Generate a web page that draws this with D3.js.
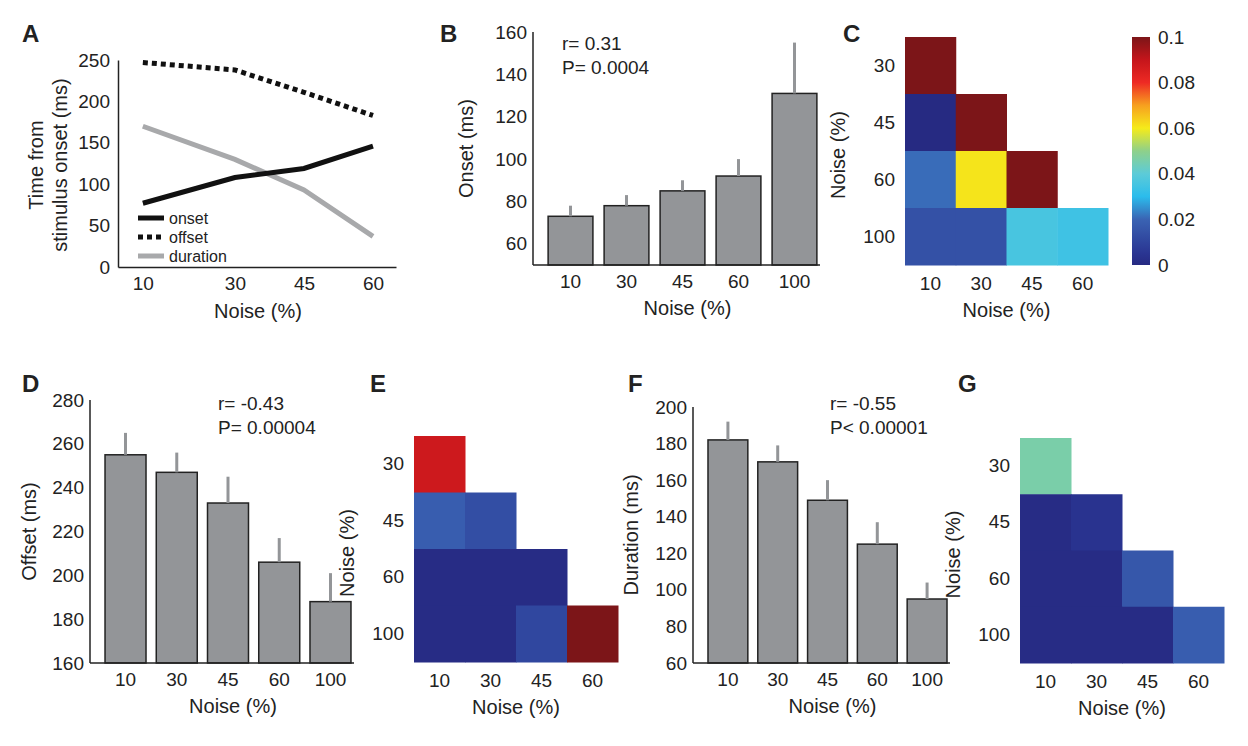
<!DOCTYPE html><html><head><meta charset="utf-8"><script src="https://cdn.jsdelivr.net/npm/d3@7"></script>
<style>body{margin:0;background:#fff}text{font-family:"Liberation Sans",Arial,sans-serif;fill:#222}</style></head><body>
<svg id="c" width="1248" height="746"></svg>
<script>
const noiseA=[10,30,45,60];
const onset=[77,108,119,146], offset=[247,238,211,183], duration=[170,130,93,37];
const barCats=["10","30","45","60","100"];
const onsetMean=[73,78,85,92,131], onsetErr=[5,5,5,8,24];
const offsetMean=[255,247,233,206,188], offsetErr=[10,9,12,11,13];
const durMean=[182,170,149,125,95], durErr=[10,9,11,12,9];
const hmCols=["10","30","45","60"], hmRows=["30","45","60","100"];
const hmC=[[0.1],[0,0.1],[0.021,0.061,0.1],[0.014,0.014,0.036,0.034]];
const hmE=[[0.088],[0.018,0.013],[0.001,0.001,0.001],[0.001,0.001,0.011,0.1]];
const hmG=[[0.046],[0.001,0.004],[0.001,0.001,0.016],[0.001,0.001,0.001,0.018]];
const cbTicks=[0,0.02,0.04,0.06,0.08,0.1];

const svg=d3.select("#c");
const jet=d3.scaleLinear().domain([0,0.005,0.02,0.03,0.04,0.05,0.06,0.07,0.08,0.09,0.1])
 .range(["#262a82","#2a3592","#3a63b3","#2bbcec","#5ccbd8","#8ed08a","#f5eb1a","#f7a01f","#ee2a24","#c5151b","#7c1518"]).clamp(true);
const FS=19;
function letter(t,x,y){svg.append("text").attr("x",x).attr("y",y).attr("font-size",24).attr("font-weight","bold").text(t);}
function style(g){g.selectAll("text").attr("font-size",FS).attr("font-family","Liberation Sans, Arial").attr("fill","#222");g.selectAll("path,line").attr("stroke","#222").attr("stroke-width",1.5);}
function lab(t,x,y,rot){const e=svg.append("text").attr("font-size",FS+1).attr("text-anchor","middle").text(t);
 if(rot)e.attr("transform",`translate(${x},${y}) rotate(-90)`);else e.attr("x",x).attr("y",y);return e;}

// Panel A
letter("A",22,42);
{const x=d3.scaleLinear().domain([4.6,65]).range([118,396]);
 const y=d3.scaleLinear().domain([0,250]).range([267,60]);
 const gy=svg.append("g").attr("transform","translate(118,0)").call(d3.axisLeft(y).tickValues([0,50,100,150,200,250]).tickSize(0).tickPadding(8));
 const gx=svg.append("g").attr("transform","translate(0,267)").call(d3.axisBottom(x).tickValues(noiseA).tickSize(0).tickPadding(10));
 style(gy);style(gx);
 const ln=d3.line().x((d,i)=>x(noiseA[i])).y(d=>y(d));
 svg.append("path").attr("d",ln(duration)).attr("fill","none").attr("stroke","#a8a9ab").attr("stroke-width",5);
 svg.append("path").attr("d",ln(onset)).attr("fill","none").attr("stroke","#111").attr("stroke-width",5);
 svg.append("path").attr("d",ln(offset)).attr("fill","none").attr("stroke","#111").attr("stroke-width",5).attr("stroke-dasharray","5,4");
 lab("Noise (%)",258,318);
 const t=svg.append("text").attr("font-size",FS+1).attr("text-anchor","middle").attr("transform","translate(55,165) rotate(-90)");
 t.append("tspan").attr("x",0).attr("dy",-12).text("Time from");t.append("tspan").attr("x",0).attr("dy",24).text("stimulus onset (ms)");
 const leg=[["onset","#111",null],["offset","#111","5,4"],["duration","#a8a9ab",null]];
 leg.forEach((l,i)=>{const yy=218+i*19;svg.append("line").attr("x1",138).attr("x2",164).attr("y1",yy).attr("y2",yy).attr("stroke",l[1]).attr("stroke-width",5).attr("stroke-dasharray",l[2]);
  svg.append("text").attr("x",169).attr("y",yy+6).attr("font-size",16).text(l[0]);});
}
function bars(cfg){
 const x=d3.scaleBand().domain(barCats).range([cfg.x0+14,cfg.x1]).paddingInner(0.2).paddingOuter(0.02);
 const y=d3.scaleLinear().domain(cfg.dom).range([cfg.yb,cfg.yt]);
 const g=svg.append("g");
 g.selectAll("rect").data(cfg.m).join("rect").attr("x",(d,i)=>x(barCats[i])).attr("width",x.bandwidth())
  .attr("y",d=>y(d)).attr("height",d=>cfg.yb-y(d)).attr("fill","#939598").attr("stroke","#222").attr("stroke-width",1.5);
 g.selectAll("line.e").data(cfg.m).join("line").attr("class","e").attr("x1",(d,i)=>x(barCats[i])+x.bandwidth()/2).attr("x2",(d,i)=>x(barCats[i])+x.bandwidth()/2)
  .attr("y1",d=>y(d)).attr("y2",(d,i)=>y(d+cfg.e[i])).attr("stroke","#939598").attr("stroke-width",3);
 const gy=svg.append("g").attr("transform",`translate(${cfg.x0},0)`).call(d3.axisLeft(y).tickValues(cfg.ticks).tickSize(0).tickPadding(6));
 gy.select(".domain").attr("d",`M0,${cfg.yt}V${cfg.yb}`);
 const gx=svg.append("g").attr("transform",`translate(0,${cfg.yb})`).call(d3.axisBottom(x).tickSize(0).tickPadding(10));
 gx.select(".domain").attr("d",`M${cfg.x0},0H${cfg.x1+2}`);
 style(gy);style(gx);
 lab("Noise (%)",(cfg.x0+cfg.x1)/2+12,cfg.yb+50);
 lab(cfg.yl,cfg.x0-cfg.lo,(cfg.yb+cfg.yt)/2,true);
 svg.append("text").attr("x",cfg.tx).attr("y",cfg.ty).attr("font-size",FS).text(cfg.r);
 svg.append("text").attr("x",cfg.tx).attr("y",cfg.ty+24).attr("font-size",FS).text(cfg.p);
}
letter("B",440,42);
bars({x0:533,x1:818,yb:265,yt:32,dom:[50,160],ticks:[60,80,100,120,140,160],m:onsetMean,e:onsetErr,yl:"Onset (ms)",lo:60,tx:562,ty:50,r:"r= 0.31",p:"P= 0.0004"});
letter("D",22,392);
bars({x0:90,x1:352,yb:663,yt:400,dom:[160,280],ticks:[160,180,200,220,240,260,280],m:offsetMean,e:offsetErr,yl:"Offset (ms)",lo:54,tx:218,ty:410,r:"r= -0.43",p:"P= 0.00004"});
letter("F",628,392);
bars({x0:693,x1:948,yb:663,yt:407,dom:[60,200],ticks:[60,80,100,120,140,160,180,200],m:durMean,e:durErr,yl:"Duration (ms)",lo:55,tx:830,ty:410,r:"r= -0.55",p:"P< 0.00001"});

function heat(cfg){
 const x=d3.scaleBand().domain(hmCols).range([cfg.x0,cfg.x1]);
 const y=d3.scaleBand().domain(hmRows).range([cfg.y0,cfg.y1]);
 cfg.v.forEach((row,r)=>row.forEach((v,c)=>svg.append("rect").attr("x",x(hmCols[c])).attr("y",y(hmRows[r]))
  .attr("width",x.bandwidth()+0.5).attr("height",y.bandwidth()+0.5).attr("fill",jet(v))));
 const gx=svg.append("g").attr("transform",`translate(0,${cfg.y1})`).call(d3.axisBottom(x).tickSize(0).tickPadding(12));
 const gy=svg.append("g").attr("transform",`translate(${cfg.x0},0)`).call(d3.axisLeft(y).tickSize(0).tickPadding(10));
 style(gx);style(gy);gx.select(".domain").remove();gy.select(".domain").remove();
 lab("Noise (%)",(cfg.x0+cfg.x1)/2,cfg.y1+52);
 lab("Noise (%)",cfg.x0-60,(cfg.y0+cfg.y1)/2+4,true);
}
letter("C",843,42);
heat({x0:905,x1:1108,y0:37,y1:265,v:hmC});
letter("E",370,392);
heat({x0:414,x1:618,y0:436,y1:662,v:hmE});
letter("G",958,392);
heat({x0:1020,x1:1224,y0:438,y1:663,v:hmG});
{const y=d3.scaleLinear().domain([0,0.1]).range([265,37]);
 const defs=svg.append("defs");const gr=defs.append("linearGradient").attr("id","cb").attr("x1",0).attr("x2",0).attr("y1",1).attr("y2",0);
 d3.range(0,1.0001,0.05).forEach(t=>gr.append("stop").attr("offset",t).attr("stop-color",jet(t*0.1)));
 svg.append("rect").attr("x",1132).attr("y",37).attr("width",18).attr("height",228).attr("fill","url(#cb)");
 const g=svg.append("g").attr("transform","translate(1150,0)").call(d3.axisRight(y).tickValues(cbTicks).tickSize(0).tickPadding(8).tickFormat(d=>d===0?"0":String(+d.toFixed(2))));
 style(g);g.select(".domain").remove();
}
</script></body></html>
